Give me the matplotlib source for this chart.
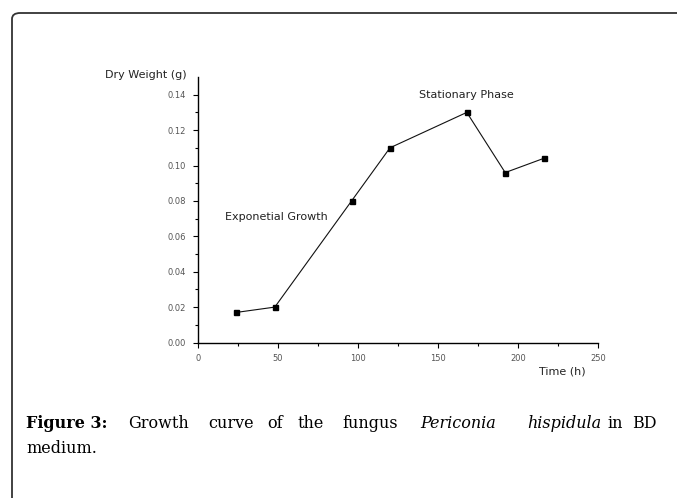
import matplotlib
matplotlib.use('Agg')
import matplotlib.pyplot as plt
from matplotlib.patches import FancyBboxPatch

# growth data
time_h = [24, 48, 96, 120, 168, 192, 216]
dry_weight = [0.017, 0.020, 0.080, 0.110, 0.130, 0.096, 0.104]

x_ticks = [0, 50, 100, 150, 200, 250]
y_ticks = [0.00, 0.02, 0.04, 0.06, 0.08, 0.10, 0.12, 0.14]

W, H = 677, 498
fig = plt.figure(figsize=(W / 100, H / 100), dpi=100)

# rounded frame around the figure
frame = FancyBboxPatch((12 / W, -0.2), 1.2, 1 - 13 / H + 0.2,
                       boxstyle='round,pad=0,rounding_size=0.012',
                       transform=fig.transFigure, fill=False,
                       edgecolor='#333333', linewidth=1.3)
fig.patches.append(frame)

ax = fig.add_axes([198 / W, 1 - 342.5 / H, 400 / W, 265.5 / H])
ax.plot(time_h, dry_weight, color='#111111', linewidth=0.8,
        marker='s', markersize=3.6, markerfacecolor='black', markeredgecolor='black')

ax.set_xlim(0, 250)
ax.set_ylim(0, 0.15)
ax.set_xticks(x_ticks)
ax.set_xticklabels([str(v) for v in x_ticks])
ax.set_yticks(y_ticks)
ax.set_yticklabels(['%.2f' % v for v in y_ticks])
ax.set_xticks([25, 75, 125, 175, 225], minor=True)
ax.set_yticks([0.01, 0.03, 0.05, 0.07, 0.09, 0.11, 0.13], minor=True)
ax.tick_params(which='major', direction='out', length=3.5, width=0.8,
               labelsize=6, labelcolor='#555555', pad=5)
ax.tick_params(which='minor', direction='out', length=2, width=0.8)
for s in ['top', 'right']:
    ax.spines[s].set_visible(False)
for s in ['left', 'bottom']:
    ax.spines[s].set_linewidth(1.0)

ax.text(168, 0.140, 'Stationary Phase', fontsize=8, ha='center', va='center', color='#222222')
ax.text(49, 0.0707, 'Exponetial Growth', fontsize=8, ha='center', va='center', color='#222222')

fig.text(146 / W, 1 - 75 / H, 'Dry Weight (g)', fontsize=8, ha='center', va='center', color='#222222')
fig.text(562 / W, 1 - 372 / H, 'Time (h)', fontsize=8, ha='center', va='center', color='#222222')

# caption, laid out word by word to mimic the justified line
caption_words = [('Figure 3:', 26, 'bold'), ('Growth', 128, 'normal'), ('curve', 208, 'normal'),
                 ('of', 267, 'normal'), ('the', 298, 'normal'), ('fungus', 342, 'normal'),
                 ('Periconia', 420, 'italic'), ('hispidula', 527, 'italic'),
                 ('in', 607, 'normal'), ('BD', 632, 'normal')]
for word, x, style in caption_words:
    fig.text(x / W, 1 - 428 / H, word, fontsize=11.5, family='DejaVu Serif',
             fontweight='bold' if style == 'bold' else 'normal',
             fontstyle='italic' if style == 'italic' else 'normal',
             ha='left', va='baseline')
fig.text(26 / W, 1 - 453 / H, 'medium.', fontsize=11.5, family='DejaVu Serif',
         ha='left', va='baseline')

fig.savefig('out.png', dpi=100)
